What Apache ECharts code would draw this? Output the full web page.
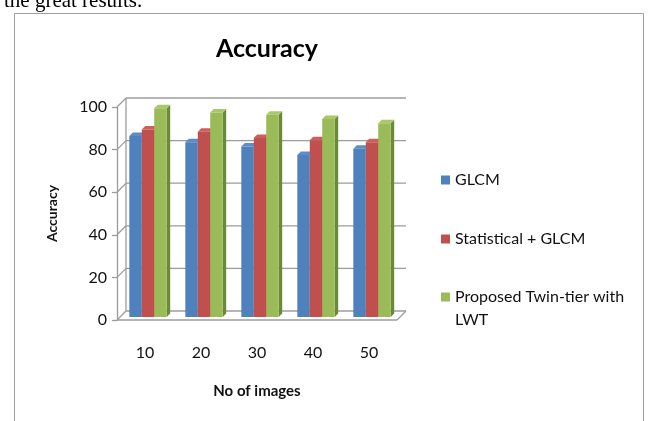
<!DOCTYPE html>
<html>
<head>
<meta charset="utf-8">
<script src="https://cdn.jsdelivr.net/npm/echarts@6/dist/echarts.min.js"></script>
<style>
html,body{margin:0;padding:0;background:#fff;}
#chart{width:650px;height:421px;}
</style>
</head>
<body>
<div id="chart"></div>
<script>
// ---- data ----
const categories = ['10', '20', '30', '40', '50'];
const glcm = [85, 82, 80, 76, 79];
const statGlcm = [88, 87, 84, 83, 82];
const proposed = [98, 96, 95, 93, 91];
const seriesNames = ['GLCM', 'Statistical + GLCM', 'Proposed Twin-tier with LWT'];
const yTicks = [0, 20, 40, 60, 80, 100];

// ---- style ----
const FONT = 'Lato';
const GRID_COLOR = '#9c9c9c';
const BACK_DX = 9, BACK_DY = -9;     // back wall offset
const PLANE_DX = 3, PLANE_DY = -3;   // bar plane offset
const DEPTH = 3.5;                   // bar depth
const palettes = [
  { front: '#4F81BD', top: '#5C8DC9', side: '#3A6391' },
  { front: '#C0504D', top: '#CC5E5B', side: '#923B39' },
  { front: '#9BBB59', top: '#A9C868', side: '#6B8A35' }
];

const chart = echarts.init(document.getElementById('chart'), null, { renderer: 'canvas' });

function frameRender(params, api) {
  const cs = params.coordSys;
  const L = cs.x, R = cs.x + cs.width;
  const v = api.value(1);
  const y = api.coord([0, v])[1];
  const st = { stroke: GRID_COLOR, lineWidth: 1.3, fill: null };
  const kids = [
    { type: 'line', shape: { x1: L + BACK_DX, y1: y + BACK_DY, x2: R + BACK_DX, y2: y + BACK_DY }, style: st },
    { type: 'line', shape: { x1: L, y1: y, x2: L + BACK_DX, y2: y + BACK_DY }, style: st }
  ];
  if (v === 0) {
    const yTopV = api.coord([0, yTicks[yTicks.length - 1]])[1];
    kids.push({ type: 'line', shape: { x1: L, y1: y, x2: R, y2: y }, style: st });
    kids.push({ type: 'line', shape: { x1: R, y1: y, x2: R + BACK_DX, y2: y + BACK_DY }, style: st });
    kids.push({ type: 'line', shape: { x1: L + BACK_DX, y1: y + BACK_DY, x2: L + BACK_DX, y2: yTopV + BACK_DY }, style: st });
  }
  return { type: 'group', children: kids };
}

function barRender(si) {
  const pal = palettes[si];
  return function (params, api) {
    const idx = api.value(0);
    const v = api.value(1);
    const c = api.coord([idx, v]);
    const base = api.coord([idx, 0]);
    const band = api.size([1, 0])[0];
    const gw = band * 0.667, bw = gw / 3;
    const x0 = c[0] - gw / 2 + si * bw + PLANE_DX;
    const yT = c[1] + PLANE_DY, yB = base[1] + PLANE_DY;
    const d = DEPTH;
    return {
      type: 'group',
      children: [
        { type: 'polygon', shape: { points: [[x0 + bw, yT], [x0 + bw + d, yT - d], [x0 + bw + d, yB - d], [x0 + bw, yB]] }, style: { fill: pal.side } },
        { type: 'polygon', shape: { points: [[x0, yT], [x0 + d, yT - d], [x0 + bw + d, yT - d], [x0 + bw, yT]] }, style: { fill: pal.top } },
        { type: 'rect', shape: { x: x0, y: yT, width: bw, height: yB - yT }, style: { fill: pal.front } }
      ]
    };
  };
}

const seriesData = [glcm, statGlcm, proposed];

const legendBase = {
  orient: 'vertical', left: 441, padding: 0, icon: 'rect',
  itemWidth: 9, itemHeight: 9, selectedMode: false,
  textStyle: { fontFamily: FONT, fontSize: 16, color: '#111', lineHeight: 20 }
};

const option = {
  backgroundColor: '#fff',
  animation: false,
  title: {
    text: 'Accuracy', left: 262, top: 29, textAlign: 'center',
    textStyle: { fontFamily: FONT, fontWeight: 'bold', fontSize: 25, color: '#000', lineHeight: 30 }
  },
  legend: [
    Object.assign({}, legendBase, { data: [seriesNames[0]], top: 170 }),
    Object.assign({}, legendBase, { data: [seriesNames[1]], top: 229 }),
    Object.assign({}, legendBase, {
      data: [seriesNames[2]], top: 262.5,
      formatter: function () { return '\u00a0\nProposed Twin-tier with\nLWT'; },
      textStyle: { fontFamily: FONT, fontSize: 16, color: '#111', lineHeight: 23 }
    })
  ],
  grid: { left: 117, top: 107, width: 280, height: 213, containLabel: false },
  xAxis: {
    type: 'category', data: categories,
    axisLine: { show: false }, axisTick: { show: false },
    axisLabel: { margin: 25, fontFamily: FONT, fontSize: 16, color: '#111' },
    name: 'No of images', nameLocation: 'middle', nameGap: 64,
    nameTextStyle: { fontFamily: FONT, fontWeight: 'bold', fontSize: 15, color: '#111' }
  },
  yAxis: {
    type: 'value', min: 0, max: 100, interval: 20,
    axisLine: { show: true, lineStyle: { color: GRID_COLOR, width: 1.3 } },
    axisTick: { show: true, length: 5, lineStyle: { color: GRID_COLOR, width: 1.3 } },
    splitLine: { show: false },
    axisLabel: { margin: 10, fontFamily: FONT, fontSize: 16, color: '#111' },
    name: 'Accuracy', nameLocation: 'middle', nameRotate: 90, nameGap: 58,
    nameTextStyle: { fontFamily: FONT, fontWeight: 'bold', fontSize: 14, color: '#111' }
  },
  graphic: [
    { type: 'rect', z: -1, shape: { x: 14.5, y: 13.5, width: 629, height: 420 }, style: { fill: '#fff', stroke: '#a0a0a0', lineWidth: 1 } },
    { type: 'text', left: 4, top: -9, style: { text: 'the great results.', fontFamily: 'Liberation Serif', fontSize: 21, fill: '#000' } }
  ],
  series: [
    {
      type: 'custom', name: '_frame', z: 1, silent: true,
      renderItem: frameRender,
      data: yTicks.map(v => [0, v])
    }
  ].concat(seriesData.map((arr, si) => ({
    type: 'custom', name: seriesNames[si], z: 2 + si,
    itemStyle: { color: palettes[si].front },
    renderItem: barRender(si),
    data: arr.map((v, i) => [i, v])
  })))
};

chart.setOption(option);
</script>
</body>
</html>
